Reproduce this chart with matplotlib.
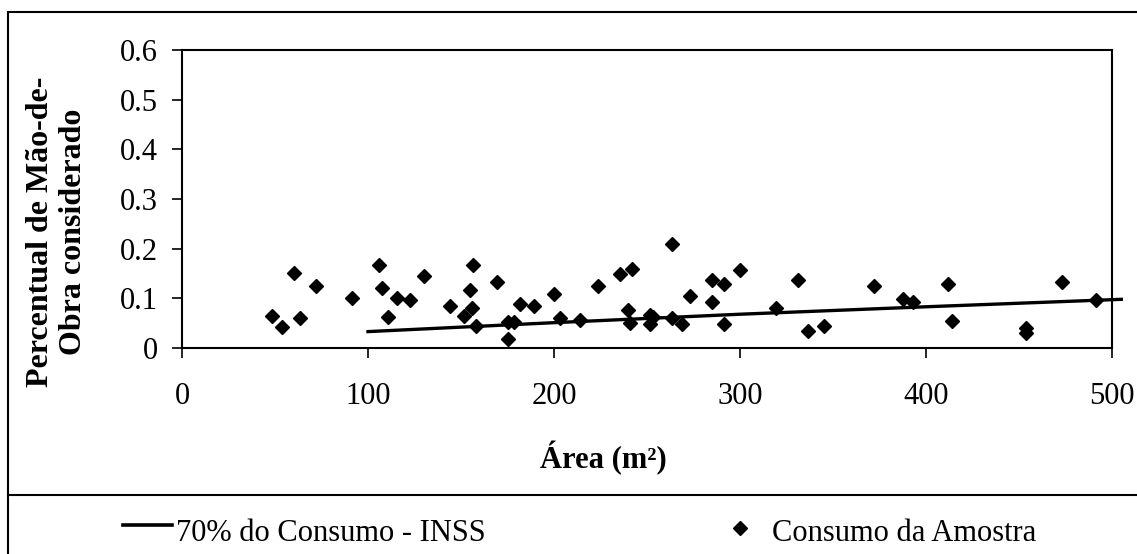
import matplotlib.pyplot as plt
from matplotlib.lines import Line2D
from matplotlib.patches import Rectangle

# dados
area_amostra = [48.2, 53.6, 60.2, 63.4, 72.0, 91.2, 106.1, 107.3, 110.6, 115.8,
                122.6, 130.1, 144.1, 151.6, 154.8, 155.7, 156.6, 157.9, 169.5,
                175.4, 175.4, 178.7, 181.7, 189.2, 200.0, 203.2, 214.0, 223.7,
                235.5, 240.0, 240.9, 241.9, 251.6, 251.6, 253.4, 263.3, 263.3,
                268.8, 273.1, 285.0, 285.1, 291.4, 291.4, 300.0, 319.4, 331.4,
                336.7, 345.2, 372.2, 387.5, 392.8, 412.0, 414.0, 453.8, 453.8,
                473.3, 491.4]
consumo_amostra = [0.064, 0.043, 0.152, 0.060, 0.125, 0.100, 0.168, 0.120, 0.063, 0.100,
                   0.097, 0.145, 0.085, 0.064, 0.117, 0.080, 0.168, 0.044, 0.132,
                   0.053, 0.019, 0.053, 0.089, 0.085, 0.109, 0.061, 0.056, 0.125,
                   0.149, 0.076, 0.051, 0.160, 0.066, 0.048, 0.063, 0.209, 0.060,
                   0.048, 0.105, 0.137, 0.092, 0.129, 0.048, 0.157, 0.081, 0.137,
                   0.035, 0.044, 0.125, 0.098, 0.092, 0.129, 0.055, 0.040, 0.031,
                   0.132, 0.097]
area_inss = [100, 200, 300, 400, 505]
consumo_inss = [0.033, 0.051, 0.068, 0.083, 0.098]

plt.rcParams['font.family'] = ['Liberation Serif', 'DejaVu Serif']

W, H = 1137, 554
fig = plt.figure(figsize=(W/100, H/100), dpi=100)
ax = fig.add_axes([182/W, 1 - 348/H, (1112 - 182)/W, (348 - 50)/H])

ax.plot(area_inss, consumo_inss, color='black', lw=2.4, clip_on=False, zorder=3)
ax.plot(area_amostra, consumo_amostra, 'D', color='black', ms=7.5, ls='none', zorder=4)

ax.set_xlim(0, 500)
ax.set_ylim(0, 0.6)
ax.set_xticks([0, 100, 200, 300, 400, 500])
ax.set_yticks([0, 0.1, 0.2, 0.3, 0.4, 0.5, 0.6])
ax.set_yticklabels(['0', '0.1', '0.2', '0.3', '0.4', '0.5', '0.6'])
ax.tick_params(direction='out', length=7.5, width=1.2, labelsize=22)
ax.tick_params(axis='y', pad=10)
ax.tick_params(axis='x', pad=17)
for s in ax.spines.values():
    s.set_linewidth(1.5)

fig.text(603/W, 1 - 468/H, 'Área (m²)', fontsize=22, fontweight='bold',
         ha='center', va='baseline')
fig.text(57/W, 1 - 232/H, 'Percentual de Mão-de-\nObra considerado', rotation=90,
         fontsize=23, fontweight='bold', ha='center', va='center', linespacing=1.2)

# moldura e separador da legenda
fig.patches.append(Rectangle((8/W, -0.01), 1.1, 1 - 12/H + 0.01, transform=fig.transFigure,
                             fill=False, ec='black', lw=1.5))
fig.add_artist(Line2D([8/W, 1], [1 - 495/H, 1 - 495/H], color='black', lw=1.5))

# legenda
fig.add_artist(Line2D([123/W, 172/W], [1 - 525/H, 1 - 525/H], color='black', lw=2.6))
fig.text(176/W, 1 - 541/H, '70% do Consumo - INSS', fontsize=22, va='baseline', ha='left')
fig.add_artist(Line2D([740/W], [1 - 528/H], marker='D', color='black', ms=7, ls='none'))
fig.text(772/W, 1 - 541/H, 'Consumo da Amostra', fontsize=22, va='baseline', ha='left')

fig.savefig('out.png', dpi=100)
